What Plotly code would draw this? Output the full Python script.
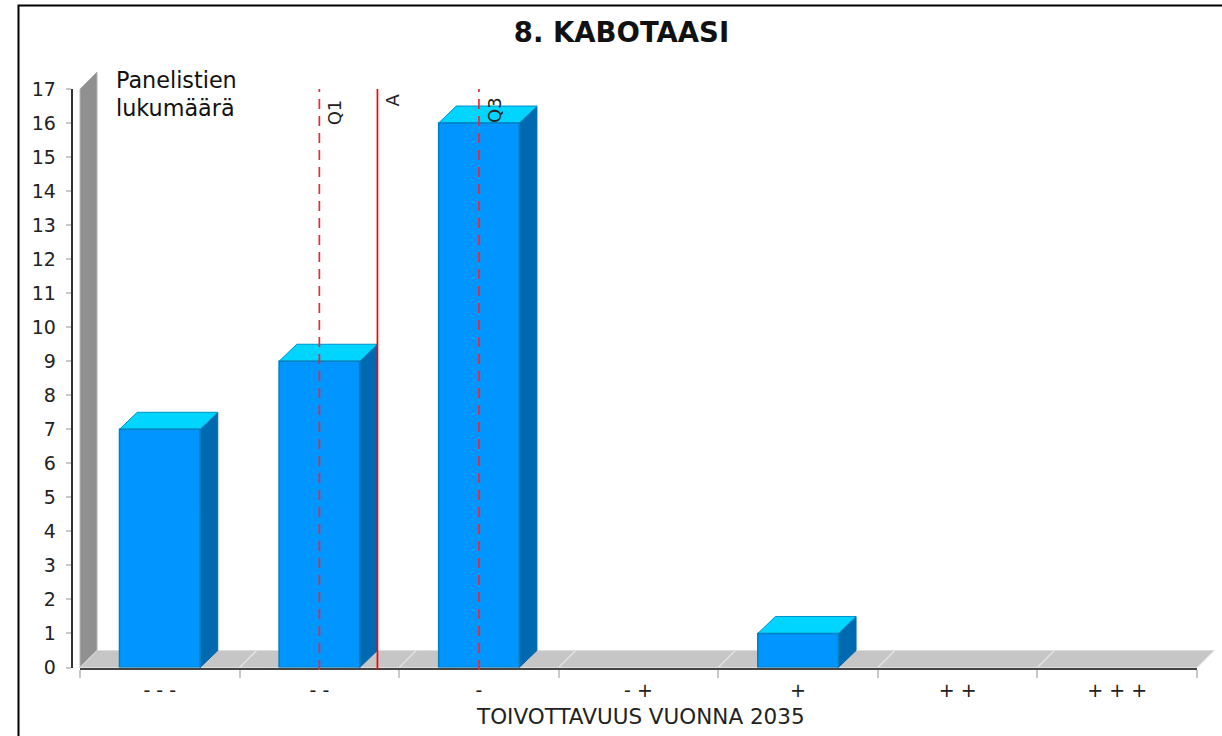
import plotly.graph_objects as go

categories = ["- - -", "- -", "-", "- +", "+", "+ +", "+ + +"]
values = [7, 9, 16, 0, 1, 0, 0]
y_ticks = list(range(0, 18))
ref_names = ["Q1", "A", "Q3"]
ref_positions = [1.50, 1.864, 2.50]
ref_dashes = ["dash", "solid", "dash"]
title_text = "8. KABOTAASI"
x_title = "TOIVOTTAVUUS VUONNA 2035"
y_note = ["Panelistien", "lukumäärä"]

W, H = 1222, 736
PX0, PX1 = 80, 1197
PY0, PY1 = 667.5, 89
UX = (PX1 - PX0) / len(categories)
UY = (PY0 - PY1) / 17
DX, DY = 17 / UX, 17 / UY
BDX = 17.7 / UX
BAR_W = 0.505
FONT = "DejaVu Sans"
TXT = "#222222"
LABEL_PY = {"Q1": 112, "A": 100, "Q3": 110}

fig = go.Figure()

def poly(xs, ys, fill, line=None, lw=1):
    fig.add_trace(go.Scatter(x=xs + xs[:1], y=ys + ys[:1], mode="lines", fill="toself",
                             fillcolor=fill, line=dict(color=line or fill, width=lw),
                             hoverinfo="skip", showlegend=False, xaxis="x", yaxis="y"))

n = len(categories)
poly([0, DX, DX, 0], [0, DY, 17 + DY, 17], "#909090", "#b4b4b4")
poly([0, n, n + DX, DX], [0, 0, DY, DY], "#c6c6c6", "#dddddd")
for i in range(1, n):
    fig.add_trace(go.Scatter(x=[i, i + DX], y=[0, DY], mode="lines",
                             line=dict(color="#e2e2e2", width=1.5),
                             hoverinfo="skip", showlegend=False, xaxis="x", yaxis="y"))

for i, v in enumerate(values):
    if v <= 0:
        continue
    l, r = i + 0.5 - BAR_W / 2, i + 0.5 + BAR_W / 2
    poly([r, r + BDX, r + BDX, r], [0, DY, v + DY, v], "#0069b0", "#0069b0")
    poly([l, r, r + BDX, l + BDX], [v, v, v + DY, v + DY], "#00d5ff", "#0090c8")

fig.add_trace(go.Bar(x=categories, y=values, xaxis="x2", yaxis="y2", width=BAR_W,
                     marker=dict(color="#0095ff",
                                 line=dict(color="#0080c0", width=[1.5 if v > 0 else 0 for v in values])),
                     showlegend=False, hoverinfo="skip"))

shapes = [dict(type="rect", xref="paper", yref="paper", x0=18.5 / W, x1=1.01, y0=-0.01, y1=1 - 5.5 / H,
               line=dict(color="#000000", width=2), layer="above")]
annotations = []
for name, pos, dash in zip(ref_names, ref_positions, ref_dashes):
    shapes.append(dict(type="line", xref="x", yref="y", x0=pos, x1=pos, y0=-0.07, y1=17,
                       line=dict(color="#ff0000" if dash == "solid" else "#e8283c", width=1.7,
                                 dash="solid" if dash == "solid" else "10px,7px"),
                       layer="above"))
    annotations.append(dict(text=name, x=pos + 15 / UX, y=(PY0 - LABEL_PY[name]) / UY, xref="x", yref="y",
                            showarrow=False, textangle=-90,
                            xanchor="center", yanchor="middle", font=dict(family=FONT, size=18, color=TXT)))

annotations.append(dict(text=y_note[0], x=(116 - PX0) / UX, y=(PY0 - 80) / UY, xref="x", yref="y", showarrow=False,
                        xanchor="left", yanchor="middle", xshift=-2, font=dict(family=FONT, size=22.3, color="#111111")))
annotations.append(dict(text=y_note[1], x=(116 - PX0) / UX, y=(PY0 - 108) / UY, xref="x", yref="y", showarrow=False,
                        xanchor="left", yanchor="middle", xshift=-2, font=dict(family=FONT, size=22.3, color="#111111")))
annotations.append(dict(text=x_title, x=(640 - PX0) / UX, y=(PY0 - 716) / UY, xref="x", yref="y", showarrow=False,
                        xanchor="center", yanchor="middle", font=dict(family=FONT, size=21.5, color=TXT)))

fig.update_layout(
    width=W, height=H, margin=dict(l=0, r=0, t=0, b=0, pad=0), autosize=False,
    paper_bgcolor="white", plot_bgcolor="rgba(0,0,0,0)", bargap=0.5,
    font=dict(family=FONT, color=TXT),
    title=dict(text=title_text, x=621.5 / W, xanchor="center", y=1 - 32 / H, yanchor="middle",
               automargin=False,
               font=dict(family=FONT, size=27.5, color="#111111", weight="bold")),
    shapes=shapes, annotations=annotations,
    xaxis=dict(domain=[0, 1], range=[-PX0 / UX, (W - PX0) / UX], visible=False, fixedrange=True, automargin=False),
    yaxis=dict(domain=[0, 1], range=[(PY0 - H) / UY, PY0 / UY], visible=False, fixedrange=True, automargin=False),
    xaxis2=dict(domain=[PX0 / W, PX1 / W], anchor="y2", type="category", range=[-0.5, n - 0.5],
                categoryorder="array", categoryarray=categories, tickson="boundaries",
                ticks="outside", ticklen=8, tickwidth=1.5, tickcolor="#c8c8c8",
                showline=True, linecolor="#444444", linewidth=2, showgrid=False, zeroline=False, automargin=False,
                tickfont=dict(family=FONT, size=19, color=TXT), ticklabelstandoff=5),
    yaxis2=dict(domain=[(H - PY0) / H, (H - PY1) / H], anchor="free", position=71.5 / W, range=[0, 17],
                tickmode="array", tickvals=y_ticks, ticks="outside", ticklen=5, tickwidth=1.5, tickcolor="#c8c8c8",
                showline=True, linecolor="#333333", linewidth=1.5, showgrid=False, zeroline=False, automargin=False,
                tickfont=dict(family=FONT, size=19, color=TXT), ticklabelstandoff=6),
)

fig.write_html("out.html", config=dict(displayModeBar=False),
               post_script="document.body.style.margin='0';document.body.style.overflow='hidden';")
